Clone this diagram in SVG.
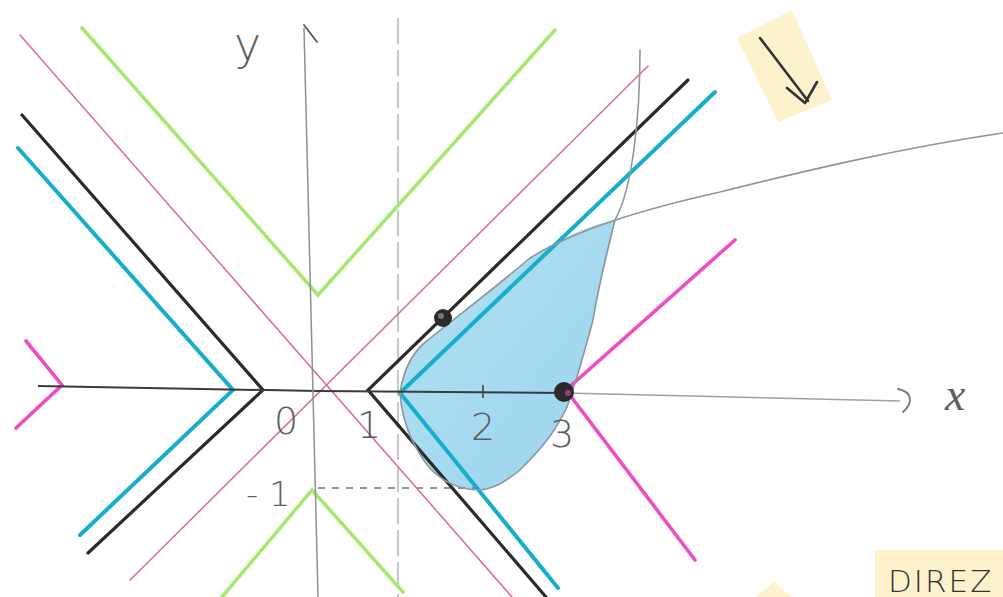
<svg xmlns="http://www.w3.org/2000/svg" width="1003" height="597" viewBox="0 0 1003 597">
<defs>
<style>
.pink{stroke:#e2708f;stroke-width:1.6;fill:none;stroke-linecap:round}
.blk{stroke:#2b2b2b;stroke-width:3.2;fill:none;stroke-linecap:round;stroke-linejoin:miter}
.cyan{stroke:#17aecd;stroke-width:4;fill:none;stroke-linecap:round}
.green{stroke:#a6e870;stroke-width:3.6;fill:none;stroke-linecap:round}
.mag{stroke:#ee4dc3;stroke-width:3.6;fill:none;stroke-linecap:round}
.gray{stroke:#8e969e;stroke-width:1.6;fill:none;stroke-linecap:round}
.lbl{font-family:"DejaVu Sans","Liberation Sans",sans-serif;fill:#5a5f64;font-weight:300}
.note{fill:#fdf2cc}
</style>
<linearGradient id="fillg" x1="0" y1="0" x2="1" y2="1">
<stop offset="0" stop-color="#b2e0f2"/>
<stop offset="1" stop-color="#9ad5ee"/>
</linearGradient>
</defs>
<rect width="1003" height="597" fill="#ffffff"/>

<g id="notes">
<polygon class="note" points="737,38 792,10 832,100 778,122"/>
<path d="M760,38 L808,101 M787,88 L805,103 L817,82" stroke="#333" stroke-width="2.6" fill="none" stroke-linecap="round" stroke-linejoin="round"/>
<rect class="note" x="875" y="550" width="128" height="47"/>
<text x="888" y="592" font-size="31" style="font-family:'DejaVu Sans','Liberation Sans',sans-serif;fill:#333;font-weight:300;letter-spacing:2px">DIREZ</text>
<polygon class="note" points="756,597 774,582 792,597"/>
</g>

<g id="region">
<path d="M400,393 C403,372 412,352 428,340 C455,318 490,292 530,258 C560,238 590,225 615,220 C610,250 600,280 593,320 C585,350 575,385 567,407 C556,430 545,445 520,470 C505,482 495,488 480,490 C462,490 440,483 425,462 C410,440 402,420 400,393 Z" fill="url(#fillg)"/>
</g>

<g id="connectors">
<line x1="398" y1="18" x2="398" y2="597" stroke="#a4aab0" stroke-width="1.3" stroke-dasharray="26,6"/>
<line x1="318" y1="488" x2="480" y2="488" stroke="#6e747a" stroke-width="1.3" stroke-dasharray="7,7"/>

<line class="pink" x1="20" y1="35" x2="512" y2="597"/>
<line class="pink" x1="130" y1="580" x2="648" y2="66"/>

<path class="green" d="M82,28 L318,295 L555,30"/>
<path class="green" d="M222,597 L312,490 L403,592"/>

<path class="blk" d="M22,115 L263,390 L88,553"/>
<path class="blk" d="M688,80 L368,390 L546,597"/>

<path class="cyan" d="M18,148 L233,390 L80,535"/>
<path class="cyan" d="M715,92 L400,393 L558,588"/>

<path class="mag" d="M26,341 L62,385 L16,428"/>
<path class="mag" d="M735,240 L566,390 L695,560"/>

<path class="gray" d="M640,50 C640,120 632,190 615,220 C606,255 598,290 593,320 C585,350 575,385 567,407 C556,430 545,445 520,470 C505,482 495,488 480,490 C462,490 440,483 425,462 C410,440 402,420 400,393 C403,372 412,352 428,340 C455,318 490,292 530,258 C575,230 640,210 720,192 C800,172 900,148 1003,133"/>

<path d="M38,386 L318,391 L565,393" stroke="#3a3a3a" stroke-width="2" fill="none"/>
<path d="M565,393 L900,401" stroke="#9aa2aa" stroke-width="1.5" fill="none"/>
<path d="M898,389 C912,392 914,402 903,412" stroke="#777" stroke-width="1.8" fill="none" stroke-linecap="round"/>
<path d="M304,28 L318,597" stroke="#8a9299" stroke-width="1.5" fill="none"/>
<path d="M304,25 L317,42" stroke="#555" stroke-width="1.8" fill="none" stroke-linecap="round"/>
<line x1="483" y1="385" x2="483" y2="398" stroke="#444" stroke-width="1.6"/>
</g>

<g id="points">
<circle cx="443" cy="318" r="9" fill="#2a2a2a"/>
<circle cx="441" cy="316" r="3" fill="#777"/>
<circle cx="564" cy="392" r="10" fill="#2a2a2a"/>
<circle cx="568" cy="393" r="3" fill="#a03a7e"/>
</g>

<g id="labels">
<text class="lbl" x="234" y="60" font-size="46">y</text>
<text class="lbl" x="945" y="410" font-size="46" font-style="italic" style="font-family:'Liberation Serif',serif">x</text>
<text class="lbl" x="274" y="434" font-size="38">0</text>
<text class="lbl" x="357" y="438" font-size="38">1</text>
<text class="lbl" x="471" y="440" font-size="38">2</text>
<text class="lbl" x="550" y="447" font-size="38">3</text>
<text class="lbl" x="246" y="506" font-size="34">- 1</text>
</g>
</svg>
